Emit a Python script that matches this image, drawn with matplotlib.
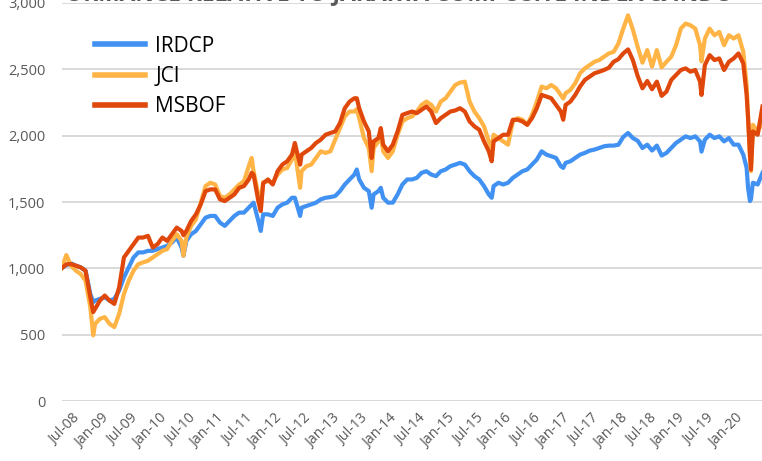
"""IRDCP performance relative to the Jakarta Composite Index and MSBOF."""

from __future__ import annotations

import matplotlib

matplotlib.use("Agg")
import matplotlib.pyplot as plt
from matplotlib.transforms import ScaledTranslation

# months since Jul-2008 (fractional values are intra-month extremes)
MONTHS = [
    -3, -2, -1, 0, 1, 2, 3, 3.6, 4, 5, 6, 7, 8, 9, 10, 11, 12, 13, 14, 15,
    16, 17, 18, 19, 20, 21, 22, 22.4, 23, 24, 25, 26, 27, 28, 29, 30, 31, 32,
    33, 34, 35, 36, 36.6, 37, 38, 38.5, 39, 40, 41, 42, 43, 44, 45, 45.6, 46,
    46.7, 47, 48, 49, 50, 51, 52, 53, 54, 55, 56, 57, 58, 58.5, 59, 60, 61,
    61.6, 62, 63, 63.5, 64, 65, 66, 67, 68, 69, 70, 71, 72, 73, 74, 75, 76,
    77, 78, 79, 80, 81, 82, 83, 84, 85, 86, 86.6, 87, 88, 89, 90, 91, 92, 93,
    94, 95, 96, 97, 98, 99, 100, 101, 101.5, 102, 103, 104, 105, 106, 107,
    108, 109, 110, 111, 112, 113, 114, 115, 116, 117, 118, 119, 120, 121, 122,
    123, 124, 125, 126, 127, 128, 129, 130, 130.3, 131, 132, 133, 134, 135,
    136, 137, 138, 139, 139.7, 140, 140.4, 140.6, 141, 142, 143,
]

IRDCP = [
    1000, 1025, 1037, 1020, 1007, 982, 807, 745, 757, 770, 782, 757, 770, 832,
    932, 1007, 1082, 1120, 1120, 1132, 1132, 1145, 1157, 1170, 1195, 1232,
    1157, 1095, 1207, 1257, 1282, 1332, 1382, 1395, 1395, 1345, 1320, 1357,
    1395, 1420, 1420, 1457, 1480, 1495, 1357, 1282, 1407, 1407, 1395, 1457,
    1482, 1495, 1532, 1532, 1482, 1395, 1457, 1470, 1482, 1495, 1520, 1532,
    1537, 1545, 1582, 1632, 1670, 1707, 1745, 1670, 1607, 1582, 1457, 1557,
    1582, 1607, 1532, 1495, 1495, 1557, 1632, 1670, 1670, 1682, 1720, 1732,
    1707, 1695, 1732, 1745, 1770, 1782, 1795, 1782, 1732, 1695, 1670, 1620,
    1557, 1532, 1620, 1645, 1632, 1645, 1682, 1707, 1732, 1745, 1782, 1820,
    1882, 1857, 1845, 1832, 1770, 1757, 1795, 1807, 1832, 1857, 1870, 1887,
    1895, 1907, 1920, 1925, 1925, 1932, 1990, 2020, 1982, 1962, 1907, 1932,
    1888, 1925, 1850, 1870, 1907, 1945, 1970, 1995, 1982, 1995, 1957, 1880,
    1970, 2007, 1982, 1995, 1957, 1982, 1932, 1932, 1857, 1757, 1607, 1507,
    1520, 1645, 1632, 1720,
]

JCI = [
    1000, 1100, 1020, 982, 957, 907, 707, 495, 582, 620, 632, 582, 557, 657,
    807, 907, 982, 1032, 1045, 1057, 1082, 1107, 1132, 1145, 1207, 1257,
    1207, 1095, 1232, 1320, 1370, 1495, 1620, 1645, 1632, 1545, 1532, 1557,
    1595, 1632, 1657, 1770, 1832, 1732, 1557, 1480, 1650, 1657, 1645, 1707,
    1745, 1757, 1820, 1907, 1782, 1607, 1732, 1770, 1782, 1832, 1882, 1870,
    1882, 1970, 2057, 2145, 2182, 2182, 2200, 2132, 1982, 1907, 1732, 1907,
    1957, 2000, 1882, 1832, 1882, 2007, 2107, 2132, 2145, 2182, 2232, 2257,
    2232, 2182, 2257, 2282, 2332, 2382, 2400, 2407, 2257, 2182, 2132, 2070,
    1957, 1907, 2007, 1982, 1957, 1932, 2107, 2132, 2120, 2082, 2157, 2257,
    2370, 2357, 2382, 2357, 2307, 2280, 2320, 2345, 2395, 2470, 2507, 2532,
    2557, 2570, 2595, 2620, 2632, 2695, 2807, 2907, 2800, 2670, 2550, 2645,
    2520, 2645, 2515, 2557, 2595, 2682, 2807, 2845, 2832, 2807, 2682, 2560,
    2732, 2807, 2757, 2782, 2682, 2757, 2732, 2757, 2632, 2382, 2132, 1832,
    1732, 2082, 2032, 2100,
]

MSBOF = [
    1000, 1030, 1032, 1020, 1007, 982, 782, 670, 695, 757, 795, 757, 732, 857,
    1082, 1132, 1182, 1232, 1232, 1245, 1157, 1182, 1232, 1207, 1257, 1307,
    1282, 1250, 1282, 1357, 1407, 1482, 1582, 1595, 1595, 1520, 1507, 1532,
    1557, 1607, 1620, 1670, 1720, 1707, 1507, 1432, 1640, 1670, 1632, 1732,
    1782, 1807, 1857, 1945, 1882, 1782, 1857, 1882, 1907, 1945, 1970, 2007,
    2020, 2032, 2095, 2207, 2257, 2282, 2282, 2207, 2107, 2032, 1832, 1957,
    1982, 2057, 1932, 1882, 1932, 2032, 2157, 2170, 2182, 2170, 2195, 2220,
    2182, 2095, 2132, 2157, 2182, 2190, 2207, 2182, 2107, 2070, 2045, 1957,
    1882, 1807, 1957, 1982, 2007, 2007, 2120, 2120, 2107, 2082, 2132, 2207,
    2307, 2295, 2282, 2232, 2182, 2120, 2232, 2257, 2307, 2370, 2420, 2445,
    2470, 2482, 2495, 2512, 2557, 2577, 2620, 2650, 2570, 2450, 2357, 2412,
    2350, 2407, 2300, 2332, 2420, 2457, 2495, 2507, 2482, 2495, 2407, 2307,
    2532, 2607, 2570, 2582, 2495, 2557, 2582, 2620, 2545, 2307, 2132, 1857,
    1745, 2032, 2007, 2220,
]

TICK_MONTHS = list(range(0, 139, 6))
TICK_LABELS = [
    "Jul-08", "Jan-09", "Jul-09", "Jan-10", "Jul-10", "Jan-11", "Jul-11",
    "Jan-12", "Jul-12", "Jan-13", "Jul-13", "Jan-14", "Jul-14", "Jan-15",
    "Jul-15", "Jan-16", "Jul-16", "Jan-17", "Jul-17", "Jan-18", "Jul-18",
    "Jan-19", "Jul-19", "Jan-20",
]
Y_TICKS = [0, 500, 1000, 1500, 2000, 2500, 3000]

TITLE = "ORMANCE RELATIVE TO JAKARTA COMPOSITE INDEX & INDC"

COLORS = {"IRDCP": "#4191F2", "JCI": "#FFB445", "MSBOF": "#E0470B"}
TEXT_GREY = "#595959"
GRID_GREY = "#D9D9D9"


def make_chart(output_path: str = "out.png") -> None:
    """Draw the three rebased series and save the figure."""
    plt.rcParams["font.family"] = ["Open Sans", "DejaVu Sans"]
    fig = plt.figure(figsize=(7.62, 4.61), dpi=100)
    ax = fig.add_axes([62 / 762, 60 / 461, 700 / 762, 398 / 461])

    for name, values in (("IRDCP", IRDCP), ("JCI", JCI), ("MSBOF", MSBOF)):
        ax.plot(MONTHS, values, color=COLORS[name], lw=3.0, label=name,
                solid_joinstyle="round")

    ax.set_xlim(-2.9, 142.9)
    ax.set_ylim(0, 3000)
    ax.set_yticks(Y_TICKS)
    ax.set_yticklabels([f"{v:,}" for v in Y_TICKS])
    ax.set_xticks(TICK_MONTHS)
    ax.set_xticklabels(TICK_LABELS, rotation=45, ha="right",
                       rotation_mode="anchor", va="center")
    ax.tick_params(axis="both", length=0, colors=TEXT_GREY)
    ax.tick_params(axis="x", pad=11, labelsize=10.2)
    ax.tick_params(axis="y", pad=12, labelsize=10.5)
    shift = ScaledTranslation(2 / 100, 0, fig.dpi_scale_trans)
    for label in ax.get_xticklabels():
        label.set_transform(label.get_transform() + shift)
    ax.grid(axis="y", color=GRID_GREY, lw=1.4)
    ax.set_axisbelow(True)
    for spine in ax.spines.values():
        spine.set_visible(False)

    leg = ax.legend(loc="upper left", bbox_to_anchor=(0.02, 0.965),
                    frameon=False, fontsize=15, handlelength=2.4,
                    handletextpad=0.5, labelspacing=0.45)
    for line in leg.get_lines():
        line.set_linewidth(4)

    fig.text(65 / 762, 1.0, TITLE, ha="left", va="baseline",
             fontsize=16.4, fontweight="bold", color=TEXT_GREY)

    fig.savefig(output_path, dpi=100)
    plt.close(fig)


def main() -> None:
    make_chart()


if __name__ == "__main__":
    main()
